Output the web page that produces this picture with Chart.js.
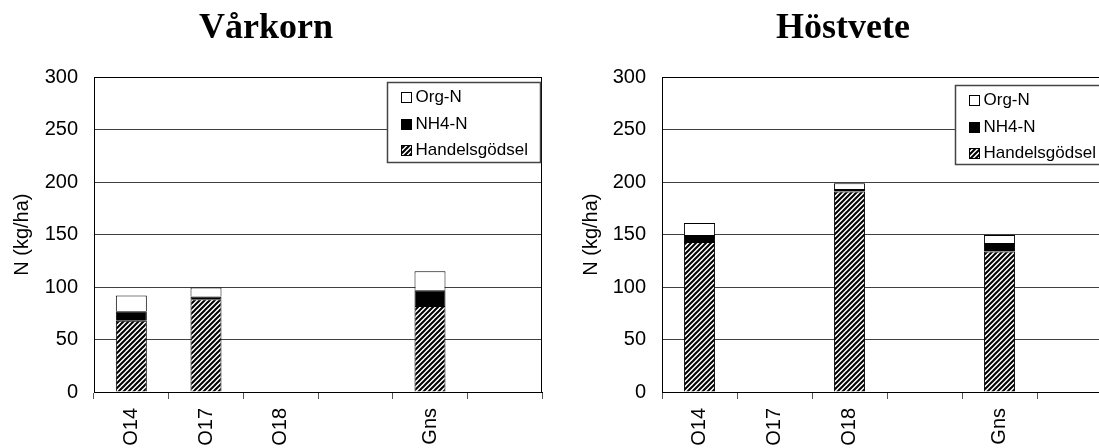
<!DOCTYPE html>
<html><head><meta charset="utf-8">
<script src="https://cdn.jsdelivr.net/npm/chart.js@4"></script>
<style>
html,body{margin:0;padding:0;background:#fff;overflow:hidden;width:1099px;height:448px;position:relative;}
canvas{position:absolute;top:0;}
#c1{left:-10px;} #c2{left:574px;}
</style></head><body>
<canvas id="c1" width="554" height="448"></canvas>
<canvas id="c2" width="540" height="448"></canvas>
<script>
// ---- data ----
const categories = ['O14', 'O17', 'O18', '', 'Gns', ''];
const yTicks = [0, 50, 100, 150, 200, 250, 300];
const seriesNames = ['Handelsgödsel', 'NH4-N', 'Org-N'];
const titles = ['Vårkorn', 'Höstvete'];

const varkornHandels = [68, 88.5, null, null, 82, null];
const varkornNH4     = [9, 2.5, null, null, 15, null];
const varkornOrg     = [15, 8.5, null, null, 18, null];

const hostveteHandels = [143, null, 191, null, 134, null];
const hostveteNH4     = [6.5, null, 2.5, null, 8, null];
const hostveteOrg     = [11.5, null, 5.5, null, 7.5, null];

// ---- helpers ----
function makeHatch(ctx) {
  const p = 5;
  const t = document.createElement('canvas');
  t.width = p; t.height = p;
  const g = t.getContext('2d');
  g.fillStyle = '#fff'; g.fillRect(0, 0, p, p);
  g.strokeStyle = '#000'; g.lineWidth = 2;
  g.beginPath();
  g.moveTo(-1, p + 1); g.lineTo(p + 1, -1);
  g.moveTo(-1, 1); g.lineTo(1, -1);
  g.moveTo(p - 1, p + 1); g.lineTo(p + 1, p - 1);
  g.stroke();
  return ctx.createPattern(t, 'repeat');
}

const framePlugin = {
  id: 'frameLegend',
  afterDatasetsDraw(chart, args, opts) {
    const { ctx, chartArea: a } = chart;
    ctx.save();
    ctx.strokeStyle = '#000'; ctx.lineWidth = 1;
    ctx.beginPath();
    ctx.moveTo(Math.round(a.left), Math.round(a.top) + 0.5);
    ctx.lineTo(Math.round(a.right), Math.round(a.top) + 0.5);
    ctx.moveTo(Math.round(a.right) - 0.5, Math.round(a.top));
    ctx.lineTo(Math.round(a.right) - 0.5, Math.round(a.bottom));
    ctx.stroke();
    const bx = Math.round(a.right - opts.right - opts.width) + 0.5;
    const by = Math.round(a.top + opts.top) + 0.5;
    ctx.fillStyle = '#fff';
    ctx.fillRect(bx, by, opts.width, opts.height);
    ctx.strokeStyle = '#444'; ctx.lineWidth = 1.5;
    ctx.strokeRect(bx, by, opts.width, opts.height);
    const ds = chart.data.datasets.slice().reverse();
    ctx.font = '17px "Liberation Sans", Arial, sans-serif';
    ctx.textBaseline = 'middle';
    ctx.textAlign = 'left';
    ds.forEach((d, i) => {
      const cy = by + opts.rows[i];
      const sx = Math.round(bx + 13) + 0.5;
      const sy = Math.round(cy - 5) + 0.5;
      ctx.fillStyle = d.backgroundColor;
      ctx.fillRect(sx, sy, 10, 10);
      ctx.strokeStyle = '#000'; ctx.lineWidth = 1;
      ctx.strokeRect(sx, sy, 10, 10);
      ctx.fillStyle = '#000';
      ctx.fillText(d.label, bx + 28, cy + 1);
    });
    ctx.restore();
  }
};

function buildChart(id, title, handels, nh4, org, yW, yTitlePad, legendOpts) {
  const canvas = document.getElementById(id);
  const ctx = canvas.getContext('2d');
  const hatch = makeHatch(ctx);
  const tickFont = { family: 'Liberation Sans', size: 20 };
  return new Chart(ctx, {
    type: 'bar',
    data: {
      labels: categories,
      datasets: [
        { label: seriesNames[0], data: handels, backgroundColor: hatch, borderColor: '#000', borderWidth: 1 },
        { label: seriesNames[1], data: nh4, backgroundColor: '#000', borderColor: '#000', borderWidth: 1 },
        { label: seriesNames[2], data: org, backgroundColor: '#fff', borderColor: '#000', borderWidth: 1 }
      ]
    },
    options: {
      responsive: false,
      animation: false,
      devicePixelRatio: 1,
      layout: { padding: { left: 0, right: 2, top: 0, bottom: 0 } },
      datasets: { bar: { categoryPercentage: 1, barPercentage: 0.415 } },
      plugins: {
        legend: { display: false },
        tooltip: { enabled: false },
        title: {
          display: true, text: title, color: '#000',
          font: { family: 'Liberation Serif', size: 36, weight: 'bold', lineHeight: 1.2 },
          padding: { top: 7, bottom: 27 }
        },
        frameLegend: legendOpts
      },
      scales: {
        x: {
          stacked: true,
          offset: true,
          grid: { display: true, drawOnChartArea: false, drawTicks: true, tickLength: 7, color: '#555', offset: true },
          border: { display: true, color: '#000', width: 1 },
          ticks: { maxRotation: 90, minRotation: 90, autoSkip: false, padding: 9, color: '#000', font: tickFont },
          afterFit(s) { s.height = 56; }
        },
        y: {
          stacked: true, min: 0, max: 300,
          afterBuildTicks(s) { s.ticks = yTicks.map(v => ({ value: v })); },
          ticks: { padding: 16, color: '#000', font: tickFont },
          grid: { color: '#404040', drawTicks: false, lineWidth: 1 },
          border: { display: true, color: '#000', width: 1 },
          title: { display: true, text: 'N (kg/ha)', color: '#000', font: tickFont, padding: { top: yTitlePad, bottom: 0 } },
          afterFit(s) { s.width = yW; }
        }
      }
    },
    plugins: [framePlugin]
  });
}

buildChart('c1', titles[0], varkornHandels, varkornNH4, varkornOrg, 104, 20,
  { right: 2, top: 5, width: 153, height: 80, rows: [14, 41, 67] });
buildChart('c2', titles[1], hostveteHandels, hostveteNH4, hostveteOrg, 88, 5,
  { right: 4, top: 8, width: 153, height: 79, rows: [14, 41, 67] });
</script>
</body></html>
